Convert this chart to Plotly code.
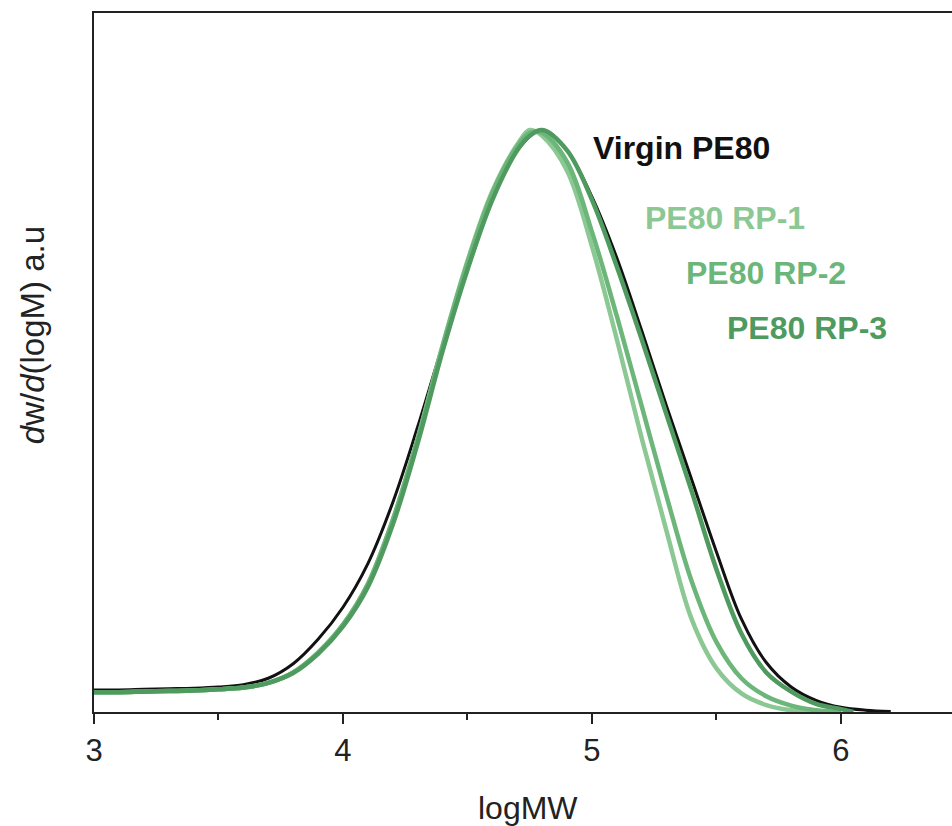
import plotly.graph_objects as go

# logMW grid points and normalised dw/dlogM values
x_virgin = [3.0, 3.1, 3.2, 3.3, 3.4, 3.5, 3.6, 3.7, 3.8, 3.9, 4.0, 4.1, 4.2, 4.3, 4.4, 4.5, 4.6, 4.7,
            4.8, 4.9, 5.0, 5.1, 5.2, 5.3, 5.4, 5.5, 5.6, 5.7, 5.8, 5.9, 6.0, 6.1, 6.2]
y_virgin = [0.038, 0.038, 0.039, 0.040, 0.041, 0.043, 0.047, 0.058, 0.083, 0.125, 0.180, 0.255, 0.360,
            0.490, 0.630, 0.760, 0.880, 0.965, 1.0, 0.965, 0.885, 0.780, 0.655, 0.525, 0.400, 0.275,
            0.160, 0.085, 0.043, 0.020, 0.008, 0.003, 0.001]

x_rp1 = [3.0, 3.1, 3.2, 3.3, 3.4, 3.5, 3.6, 3.7, 3.8, 3.9, 4.0, 4.1, 4.2, 4.3, 4.4, 4.5, 4.6, 4.7, 4.75,
         4.8, 4.9, 5.0, 5.1, 5.2, 5.3, 5.4, 5.5, 5.6, 5.7, 5.8, 5.9]
y_rp1 = [0.034, 0.034, 0.035, 0.036, 0.037, 0.039, 0.042, 0.050, 0.068, 0.102, 0.150, 0.220, 0.330,
         0.470, 0.630, 0.775, 0.895, 0.975, 1.0, 0.990, 0.930, 0.800, 0.640, 0.470, 0.310, 0.160,
         0.075, 0.032, 0.012, 0.003, 0.0]

x_rp2 = [3.0, 3.1, 3.2, 3.3, 3.4, 3.5, 3.6, 3.7, 3.8, 3.9, 4.0, 4.1, 4.2, 4.3, 4.4, 4.5, 4.6, 4.7, 4.75,
         4.8, 4.9, 5.0, 5.1, 5.2, 5.3, 5.4, 5.5, 5.6, 5.7, 5.8, 5.9, 6.0]
y_rp2 = [0.034, 0.034, 0.035, 0.036, 0.037, 0.039, 0.042, 0.050, 0.068, 0.102, 0.150, 0.220, 0.330,
         0.470, 0.628, 0.772, 0.892, 0.972, 0.995, 0.995, 0.945, 0.825, 0.680, 0.525, 0.370, 0.225,
         0.120, 0.058, 0.027, 0.011, 0.003, 0.0]

x_rp3 = [3.0, 3.1, 3.2, 3.3, 3.4, 3.5, 3.6, 3.7, 3.8, 3.9, 4.0, 4.1, 4.2, 4.3, 4.4, 4.5, 4.6, 4.7, 4.75,
         4.8, 4.9, 5.0, 5.1, 5.2, 5.3, 5.4, 5.5, 5.6, 5.7, 5.8, 5.9, 6.0, 6.05]
y_rp3 = [0.034, 0.034, 0.035, 0.036, 0.037, 0.039, 0.042, 0.050, 0.067, 0.100, 0.147, 0.215, 0.322,
         0.462, 0.620, 0.760, 0.880, 0.965, 0.990, 1.0, 0.965, 0.880, 0.765, 0.640, 0.510, 0.380,
         0.245, 0.135, 0.068, 0.035, 0.014, 0.005, 0.0]

names = ["Virgin PE80", "PE80 RP-1", "PE80 RP-2", "PE80 RP-3"]
colors = ["#111111", "#8cc894", "#6cb67a", "#4f9a5f"]
widths = [3, 4.5, 4.5, 4.5]
series = [(x_virgin, y_virgin), (x_rp1, y_rp1), (x_rp2, y_rp2), (x_rp3, y_rp3)]

x_ticks = [3, 4, 5, 6]
label_pos = [(4.996, 0.969), (5.205, 0.849), (5.369, 0.754), (5.534, 0.66)]

FONT = "Liberation Sans, Arial"

fig = go.Figure()
for (xs, ys), n, c, w in zip(series, names, colors, widths):
    fig.add_trace(go.Scatter(x=xs, y=ys, mode="lines", name=n,
                             line=dict(color=c, width=w, shape="spline", smoothing=1.0)))

for (lx, ly), n, c in zip(label_pos, names, colors):
    fig.add_annotation(x=lx, y=ly, text="<b>" + n + "</b>", showarrow=False, xanchor="left",
                       yanchor="middle", font=dict(family=FONT, size=32, color=c))

# axis titles
fig.add_annotation(xref="paper", yref="paper", x=0.506, y=-0.137, text="logMW", showarrow=False,
                   xanchor="center", yanchor="middle", font=dict(family=FONT, size=32, color="#222222"))
fig.add_annotation(xref="paper", yref="paper", x=-0.0723, y=0.539, text="<i>d</i>w/<i>d</i>(logM) a.u",
                   showarrow=False, textangle=-90, xanchor="center", yanchor="middle",
                   font=dict(family=FONT, size=33, color="#222222"))

fig.update_layout(
    width=952, height=826,
    margin=dict(l=94, r=0, t=13, b=114),
    paper_bgcolor="white", plot_bgcolor="white",
    showlegend=False,
    font=dict(family=FONT, color="#222222"),
    xaxis=dict(range=[3, 6.446], showgrid=False, zeroline=False,
               showline=True, linecolor="#222222", linewidth=2, mirror=True,
               ticks="outside", ticklen=10, tickwidth=2, tickcolor="#222222",
               tickvals=x_ticks, ticktext=[str(t) for t in x_ticks],
               tickfont=dict(size=31, color="#222222"),
               minor=dict(dtick=0.5, tick0=3, ticks="outside", ticklen=6, tickwidth=2, tickcolor="#222222")),
    yaxis=dict(range=[0, 1.201], showgrid=False, zeroline=False,
               showline=True, linecolor="#222222", linewidth=2, mirror=False,
               ticks="", showticklabels=False),
)

fig.write_html("out.html")
